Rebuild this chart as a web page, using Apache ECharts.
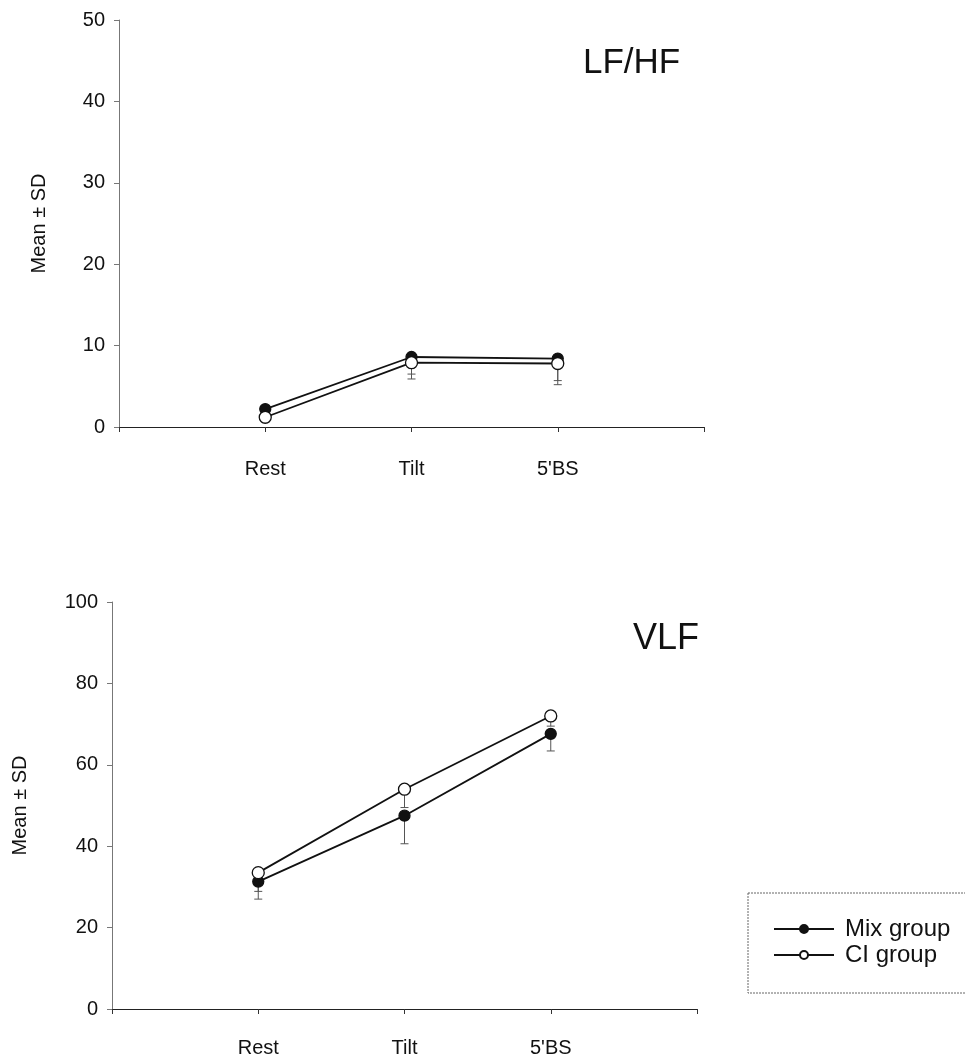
<!DOCTYPE html>
<html>
<head>
<meta charset="utf-8">
<title>LF/HF and VLF</title>
<script src="https://cdn.jsdelivr.net/npm/echarts@6/dist/echarts.min.js"></script>
<style>
  html, body { margin: 0; padding: 0; background: #fff; }
  #chart { width: 965px; height: 1060px; }
</style>
</head>
<body>
<div id="chart"></div>
<script>
const categories = ['Rest', 'Tilt', "5'BS"]
const catPos = [1, 2, 3]

// LF/HF panel
const lfhfMix = [2.2, 8.6, 8.4]
const lfhfMixLow = [1.5, 6.5, 5.7]
const lfhfCI = [1.2, 7.9, 7.8]
const lfhfCILow = [0.6, 5.9, 5.2]

// VLF panel
const vlfMix = [31.3, 47.5, 67.6]
const vlfMixLow = [27.0, 40.6, 63.4]
const vlfCI = [33.5, 54.0, 72.0]
const vlfCILow = [28.9, 49.5, 69.5]

const FONT = '"Liberation Sans", Arial, sans-serif'

const chart = echarts.init(document.getElementById('chart'))

const points = vals => vals.map((v, i) => [catPos[i], v])
const bars = (mean, low) => mean.map((v, i) => [catPos[i], v, low[i]])

function renderErr(params, api) {
  const top = api.coord([api.value(0), api.value(1)])
  const bot = api.coord([api.value(0), api.value(2)])
  const st = { stroke: '#555', lineWidth: 1 }
  return {
    type: 'group',
    children: [
      { type: 'line', shape: { x1: top[0], y1: top[1], x2: bot[0], y2: bot[1] }, style: st },
      { type: 'line', shape: { x1: bot[0] - 4, y1: bot[1], x2: bot[0] + 4, y2: bot[1] }, style: st }
    ]
  }
}

function xAxis(gridIndex, margin) {
  return {
    type: 'value',
    gridIndex,
    min: 0,
    max: 4,
    interval: 1,
    splitLine: { show: false },
    axisLine: { lineStyle: { color: '#222', width: 1 } },
    axisTick: { show: true, length: 5, lineStyle: { color: '#333' } },
    axisLabel: {
      margin,
      fontFamily: FONT,
      fontSize: 20,
      color: '#111',
      formatter: v => categories[catPos.indexOf(v)] || ''
    }
  }
}

function yAxis(gridIndex, max, interval) {
  return {
    type: 'value',
    gridIndex,
    min: 0,
    max,
    interval,
    name: 'Mean \u00b1 SD',
    nameLocation: 'middle',
    nameGap: gridIndex === 0 ? 70 : 82,
    nameTextStyle: { fontFamily: FONT, fontSize: 20, color: '#111' },
    splitLine: { show: false },
    axisLine: { show: true, lineStyle: { color: '#777', width: 1 } },
    axisTick: { show: true, length: 5, lineStyle: { color: '#777' } },
    axisLabel: { margin: 14, fontFamily: FONT, fontSize: 20, color: '#111' }
  }
}

function lineSeries(name, data, xi, filled) {
  return {
    name,
    type: 'line',
    xAxisIndex: xi,
    yAxisIndex: xi,
    data,
    symbol: 'circle',
    symbolSize: filled ? 11 : 12,
    lineStyle: { color: '#111', width: 1.8 },
    itemStyle: { color: filled ? '#111' : '#fff', borderColor: '#111', borderWidth: 1.3 },
    z: filled ? 3 : 4,
    animation: false
  }
}

function errSeries(data, xi) {
  return {
    type: 'custom',
    xAxisIndex: xi,
    yAxisIndex: xi,
    data,
    renderItem: renderErr,
    z: 1,
    silent: true,
    animation: false
  }
}

const option = {
  backgroundColor: '#fff',
  grid: [
    { left: 119, right: 261, top: 20, bottom: 633 },
    { left: 112, right: 268, top: 602, bottom: 51 }
  ],
  xAxis: [xAxis(0, 32), xAxis(1, 29)],
  yAxis: [yAxis(0, 50, 10), yAxis(1, 100, 20)],
  graphic: [
    { type: 'text', left: 583, top: 46, style: { text: 'LF/HF', font: '35px ' + FONT, fill: '#111' } },
    { type: 'text', left: 633, top: 621, style: { text: 'VLF', font: '36px ' + FONT, fill: '#111' } },
    {
      type: 'rect',
      shape: { x: 748, y: 893, width: 240, height: 100 },
      style: { fill: 'none', stroke: '#666', lineWidth: 1, lineDash: [2, 1] }
    }
  ],
  legend: {
    orient: 'vertical',
    left: 768,
    top: 912,
    itemWidth: 60,
    itemHeight: 10,
    itemGap: 2,
    textStyle: { fontFamily: FONT, fontSize: 24, color: '#111', padding: [0, 0, 0, 6] },
    data: ['Mix group', 'CI group']
  },
  series: [
    errSeries(bars(lfhfMix, lfhfMixLow), 0),
    errSeries(bars(lfhfCI, lfhfCILow), 0),
    lineSeries('Mix group', points(lfhfMix), 0, true),
    lineSeries('CI group', points(lfhfCI), 0, false),
    errSeries(bars(vlfMix, vlfMixLow), 1),
    errSeries(bars(vlfCI, vlfCILow), 1),
    lineSeries('Mix group', points(vlfMix), 1, true),
    lineSeries('CI group', points(vlfCI), 1, false)
  ]
}

chart.setOption(option)
</script>
</body>
</html>
